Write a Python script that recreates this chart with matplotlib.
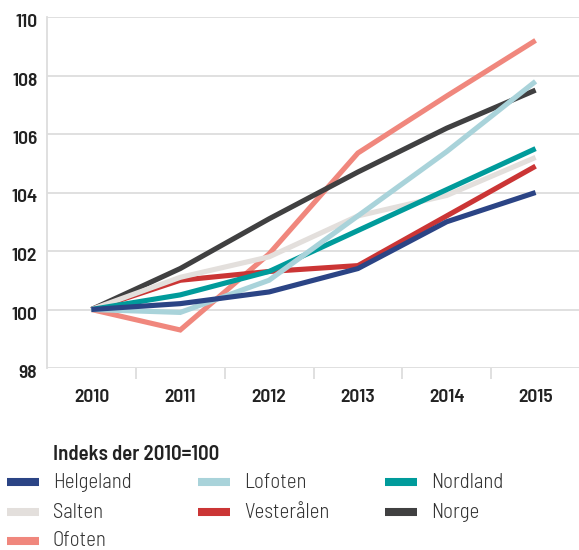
import matplotlib
matplotlib.use("Agg")
import matplotlib.pyplot as plt
from matplotlib.lines import Line2D
from matplotlib.transforms import ScaledTranslation

years = ["2010", "2011", "2012", "2013", "2014", "2015"]
names = ["Helgeland", "Lofoten", "Nordland", "Salten", "Vesterålen", "Norge", "Ofoten"]
helgeland = [100, 100.2, 100.6, 101.4, 103.0, 104.0]
lofoten = [100, 99.9, 101.0, 103.2, 105.4, 107.8]
nordland = [100, 100.5, 101.3, 102.7, 104.1, 105.5]
salten = [100, 101.1, 101.8, 103.2, 103.9, 105.2]
vesteralen = [100, 101.0, 101.3, 101.5, 103.2, 104.9]
norge = [100, 101.4, 103.1, 104.7, 106.2, 107.5]
ofoten = [100, 99.3, 101.9, 105.35, 107.3, 109.2]
colors = ["#2b4485", "#a9d3da", "#009b9b", "#e3dfdc", "#cb3535", "#404041", "#f0877d"]
series = [helgeland, lofoten, nordland, salten, vesteralen, norge, ofoten]

plt.rcParams["font.family"] = ["Barlow Semi Condensed", "DejaVu Sans"]

fig = plt.figure(figsize=(5.79, 5.5), dpi=100)
ax = fig.add_axes([47 / 579, 1 - 368 / 550, 533 / 579, 351 / 550])

x = range(len(years))
# draw in reverse so Helgeland ends up on top
for vals, c in reversed(list(zip(series, colors))):
    ax.plot(x, vals, color=c, lw=3.7, solid_joinstyle="miter", solid_capstyle="butt")

ax.set_xlim(-0.5, 5.5)
ax.set_ylim(98, 110)
ax.set_yticks(range(98, 111, 2))
ax.set_xticks(list(x))
ax.set_xticklabels(years)
ax.set_xticks([i + 0.5 for i in range(5)], minor=True)
ax.grid(axis="y", color="#dddddd", lw=1.3)
ax.set_axisbelow(True)
for s in ["top", "right", "bottom"]:
    ax.spines[s].set_visible(False)
ax.spines["left"].set_color("#dddddd")
ax.spines["left"].set_linewidth(1.3)
ax.tick_params(axis="y", length=0, pad=7, labelsize=14, labelcolor="#222222")
ax.tick_params(axis="x", which="major", length=0, pad=15, labelsize=14, labelcolor="#222222")
ax.tick_params(axis="x", which="minor", length=8, width=1.3, color="#dddddd")
for lab in ax.get_yticklabels():
    lab.set_fontweight(600)
    lab.set_transform(lab.get_transform() + ScaledTranslation(0, -0.035, fig.dpi_scale_trans))
for lab in ax.get_xticklabels():
    lab.set_fontweight(600)

fig.text(53 / 579, 1 - 455 / 550, "Indeks der 2010=100", fontsize=15, fontweight=600,
         color="#222222", va="center", ha="left")

col_x = [7, 198, 385]
row_y = [482, 512, 541]
for i, (name, c) in enumerate(zip(names, colors)):
    r, k = divmod(i, 3)
    x0 = col_x[k]
    y0 = 1 - row_y[r] / 550
    fig.add_artist(Line2D([x0 / 579, (x0 + 32) / 579], [y0, y0], color=c, lw=5.8,
                          solid_capstyle="butt", transform=fig.transFigure))
    fig.text((x0 + 46) / 579, y0, name, fontsize=15, fontweight=300, color="#333333",
             va="center", ha="left")

fig.savefig("out.png", dpi=100)
